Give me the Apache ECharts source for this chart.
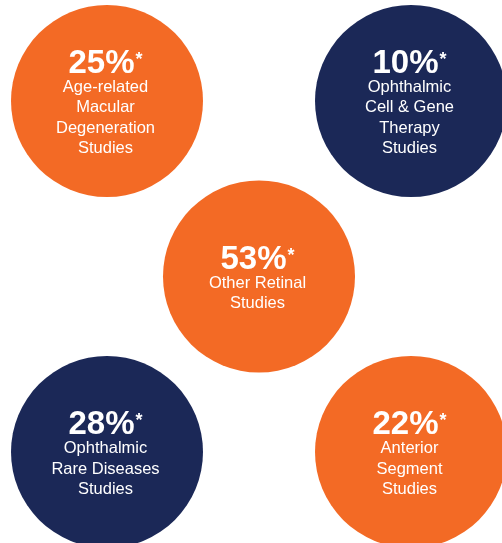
<!DOCTYPE html>
<html>
<head>
<meta charset="utf-8">
<script src="https://cdn.jsdelivr.net/npm/echarts@6/dist/echarts.min.js"></script>
<style>
html,body{margin:0;padding:0;background:#ffffff;}
#chart{width:502px;height:543px;}
</style>
</head>
<body>
<div id="chart"></div>
<script>
// Data
var categories = [
  "Age-related Macular Degeneration Studies",
  "Ophthalmic Cell & Gene Therapy Studies",
  "Other Retinal Studies",
  "Ophthalmic Rare Diseases Studies",
  "Anterior Segment Studies"
];
var labelLines = [
  ["Age-related", "Macular", "Degeneration", "Studies"],
  ["Ophthalmic", "Cell & Gene", "Therapy", "Studies"],
  ["Other Retinal", "Studies"],
  ["Ophthalmic", "Rare Diseases", "Studies"],
  ["Anterior", "Segment", "Studies"]
];
var percents = [25, 10, 53, 28, 22];
var gridCol = [0, 2, 1, 0, 2];
var gridRow = [0, 0, 1, 2, 2];
var colorKeys = ["orange", "navy", "orange", "navy", "orange"];

var palette = { orange: "#F36A25", navy: "#1B2857" };

var data = percents.map(function (p, i) {
  return {
    name: categories[i],
    value: [gridCol[i], gridRow[i], p],
    itemStyle: { color: palette[colorKeys[i]], opacity: 1 }
  };
});

var FONT = 'Liberation Sans, Arial, sans-serif';
var chart = echarts.init(document.getElementById('chart'), null, { renderer: 'canvas' });
chart.setOption({
  backgroundColor: '#ffffff',
  animation: false,
  grid: { left: 107, right: 91, top: 101, bottom: 91 },
  xAxis: { type: 'value', min: 0, max: 2, show: false },
  yAxis: { type: 'value', min: 0, max: 2, inverse: true, show: false },
  series: [{
    type: 'scatter',
    symbol: 'circle',
    symbolSize: 192,
    itemStyle: { opacity: 1 },
    emphasis: { disabled: true },
    data: data,
    label: {
      show: true,
      position: 'inside',
      offset: [-1.5, 4],
      color: '#ffffff',
      fontFamily: FONT,
      formatter: function (params) {
        var lines = labelLines[params.dataIndex];
        var s = '{p|' + params.value[2] + '%}{s|*}';
        lines.forEach(function (l) { s += '\n{t|' + l + '}'; });
        return s;
      },
      rich: {
        p: { fontSize: 33, fontWeight: 'bold', color: '#ffffff', lineHeight: 26, fontFamily: FONT },
        s: { fontSize: 18, fontWeight: 'bold', color: '#ffffff', lineHeight: 1, verticalAlign: 'top', padding: [0, 0, 0, 1], fontFamily: FONT },
        t: { fontSize: 16.5, color: '#ffffff', lineHeight: 20.5, fontFamily: FONT }
      }
    }
  }]
});
</script>
</body>
</html>
